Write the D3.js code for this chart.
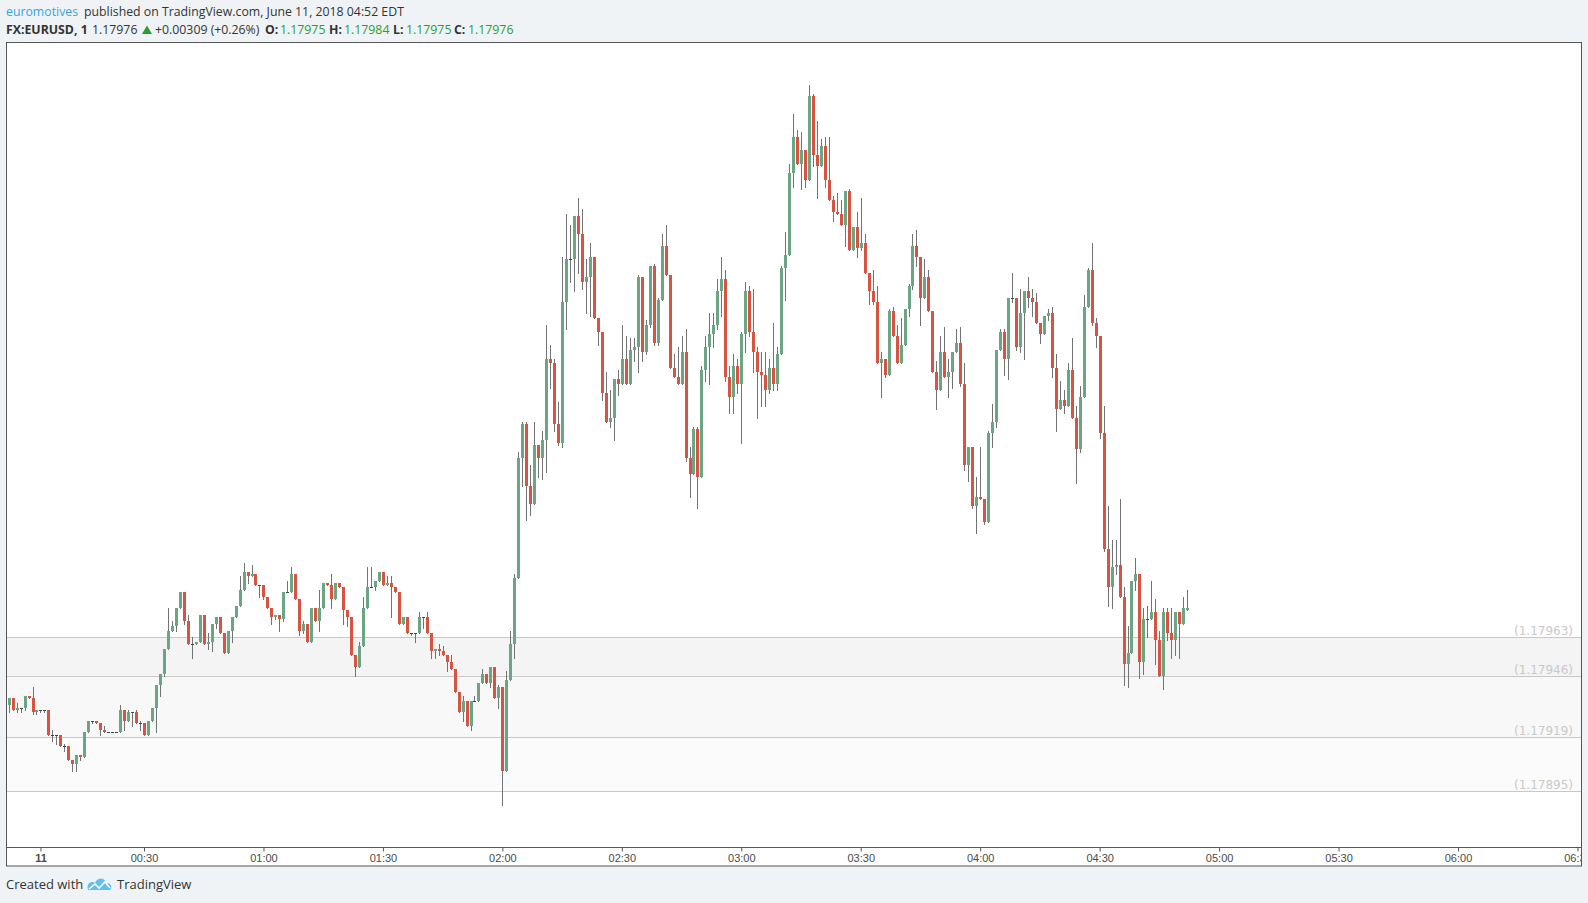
<!DOCTYPE html>
<html lang="en">
<head>
	<meta charset="utf-8">
	<title>FX:EURUSD, 1</title>
	<script src="https://d3js.org/d3.v7.min.js"></script>
	<style>
	body {
		margin: 0;
		background: #eff3f6;
	}
	svg {
		display: block;
	}
	.hdr {
		font-family: "Open Sans", sans-serif;
		font-size: 12.3px;
		fill: #333;
	}
	.axis text {
		font-family: "Liberation Sans", Arial, sans-serif;
		font-size: 11px;
		fill: #4a4a4a;
	}
	.axis line {
		stroke: #555;
	}
	.lvl {
		font-family: "DejaVu Sans", sans-serif;
		font-size: 12px;
		fill: #c9c9c9;
	}
	</style>
</head>
<body>
	<script>
		var w = 1588;
		var h = 903;

		// one bar per minute, first bar is 23:56 of the 10th (minute -4)
		var firstMinute = -4;

		var opens = [
			1.17933,1.17936,1.17931,1.17932,1.17932,1.17937,1.17936,1.17930,1.17931,1.17931,
			1.17931,1.17920,1.17920,1.17920,1.17915,1.17915,1.17909,1.17907,1.17911,1.17910,
			1.17921,1.17926,1.17926,1.17925,1.17922,1.17921,1.17921,1.17921,1.17921,1.17931,
			1.17926,1.17930,1.17930,1.17925,1.17925,1.17920,1.17926,1.17932,1.17942,1.17947,
			1.17958,1.17966,1.17968,1.17976,1.17983,1.17970,1.17960,1.17960,1.17961,1.17973,
			1.17960,1.17961,1.17969,1.17972,1.17965,1.17956,1.17966,1.17972,1.17977,1.17984,
			1.17992,1.17990,1.17991,1.17986,1.17986,1.17981,1.17976,1.17972,1.17973,1.17971,
			1.17983,1.17983,1.17991,1.17980,1.17966,1.17969,1.17961,1.17976,1.17970,1.17976,
			1.17987,1.17986,1.17980,1.17987,1.17985,1.17975,1.17972,1.17955,1.17950,1.17959,
			1.17976,1.17985,1.17985,1.17988,1.17992,1.17986,1.17987,1.17985,1.17983,1.17969,
			1.17972,1.17965,1.17965,1.17965,1.17972,1.17972,1.17965,1.17957,1.17958,1.17957,
			1.17955,1.17952,1.17949,1.17939,1.17930,1.17935,1.17924,1.17935,1.17935,1.17943,
			1.17947,1.17943,1.17950,1.17936,1.17941,1.17904,1.17944,1.17960,1.17989,1.18042,
			1.18057,1.18030,1.18022,1.18048,1.18042,1.18050,1.18086,1.18084,1.18057,1.18049,
			1.18111,1.18130,1.18130,1.18149,1.18141,1.18120,1.18122,1.18131,1.18104,1.18098,
			1.18071,1.18058,1.18060,1.18077,1.18075,1.18086,1.18075,1.18090,1.18091,1.18122,
			1.18089,1.18101,1.18127,1.18093,1.18112,1.18136,1.18123,1.18082,1.18078,1.18075,
			1.18089,1.18042,1.18035,1.18055,1.18034,1.18081,1.18091,1.18097,1.18101,1.18116,
			1.18121,1.18078,1.18069,1.18083,1.18075,1.18097,1.18116,1.18098,1.18089,1.18080,
			1.18079,1.18072,1.18082,1.18075,1.18088,1.18126,1.18132,1.18168,1.18184,1.18172,
			1.18178,1.18165,1.18202,1.18176,1.18171,1.18180,1.18165,1.18156,1.18151,1.18150,
			1.18145,1.18160,1.18134,1.18144,1.18135,1.18137,1.18124,1.18116,1.18111,1.18084,
			1.18086,1.18079,1.18107,1.18096,1.18084,1.18092,1.18108,1.18118,1.18136,1.18131,
			1.18113,1.18122,1.18107,1.18080,1.18072,1.18089,1.18078,1.18080,1.18089,1.18093,
			1.18075,1.18039,1.18047,1.18021,1.18025,1.18024,1.18014,1.18053,1.18058,1.18090,
			1.18098,1.18086,1.18113,1.18113,1.18091,1.18106,1.18116,1.18113,1.18111,1.18102,
			1.18097,1.18105,1.18106,1.18082,1.18064,1.18068,1.18065,1.18081,1.18060,1.18046,
			1.18069,1.18109,1.18125,1.18102,1.18096,1.18053,1.18002,1.17985,1.17994,1.17995,
			1.17981,1.17951,1.17956,1.17988,1.17991,1.17952,1.17971,1.17971,1.17974,1.17962,
			1.17946,1.17974,1.17965,1.17962,1.17974,1.17969,1.17975
		];

		var highs = [
			1.17936,1.17936,1.17934,1.17932,1.17937,1.17937,1.17941,1.17931,1.17931,1.17931,
			1.17931,1.17922,1.17920,1.17920,1.17916,1.17915,1.17909,1.17911,1.17911,1.17921,
			1.17926,1.17926,1.17926,1.17925,1.17924,1.17921,1.17921,1.17921,1.17933,1.17931,
			1.17931,1.17930,1.17931,1.17926,1.17925,1.17926,1.17932,1.17942,1.17947,1.17958,
			1.17976,1.17970,1.17976,1.17983,1.17983,1.17973,1.17963,1.17961,1.17973,1.17973,
			1.17965,1.17969,1.17972,1.17972,1.17965,1.17966,1.17972,1.17977,1.17990,1.17996,
			1.17992,1.17995,1.17991,1.17986,1.17986,1.17981,1.17976,1.17973,1.17973,1.17983,
			1.17988,1.17994,1.17991,1.17980,1.17970,1.17969,1.17976,1.17976,1.17984,1.17987,
			1.17987,1.17991,1.17987,1.17987,1.17985,1.17975,1.17972,1.17955,1.17961,1.17981,
			1.17994,1.17994,1.17988,1.17992,1.17992,1.17990,1.17990,1.17985,1.17983,1.17972,
			1.17972,1.17965,1.17965,1.17974,1.17972,1.17974,1.17965,1.17958,1.17960,1.17959,
			1.17955,1.17955,1.17949,1.17939,1.17937,1.17935,1.17935,1.17937,1.17943,1.17949,
			1.17947,1.17950,1.17950,1.17942,1.17941,1.17948,1.17966,1.17991,1.18045,1.18058,
			1.18058,1.18039,1.18058,1.18048,1.18054,1.18101,1.18092,1.18086,1.18067,1.18131,
			1.18150,1.18145,1.18149,1.18157,1.18152,1.18130,1.18137,1.18131,1.18104,1.18098,
			1.18080,1.18072,1.18077,1.18081,1.18101,1.18096,1.18095,1.18095,1.18123,1.18122,
			1.18103,1.18127,1.18128,1.18113,1.18141,1.18145,1.18123,1.18088,1.18091,1.18096,
			1.18099,1.18047,1.18056,1.18056,1.18083,1.18096,1.18106,1.18106,1.18121,1.18131,
			1.18125,1.18083,1.18088,1.18086,1.18098,1.18120,1.18118,1.18117,1.18091,1.18089,
			1.18089,1.18086,1.18102,1.18091,1.18127,1.18142,1.18172,1.18194,1.18187,1.18186,
			1.18178,1.18207,1.18203,1.18191,1.18183,1.18184,1.18184,1.18158,1.18159,1.18156,
			1.18160,1.18161,1.18144,1.18151,1.18157,1.18141,1.18124,1.18125,1.18118,1.18089,
			1.18086,1.18108,1.18109,1.18101,1.18104,1.18108,1.18119,1.18141,1.18143,1.18131,
			1.18130,1.18125,1.18107,1.18085,1.18096,1.18100,1.18086,1.18089,1.18099,1.18100,
			1.18084,1.18047,1.18047,1.18034,1.18047,1.18024,1.18054,1.18066,1.18090,1.18099,
			1.18099,1.18113,1.18124,1.18113,1.18117,1.18116,1.18122,1.18117,1.18115,1.18102,
			1.18105,1.18108,1.18109,1.18088,1.18076,1.18072,1.18084,1.18095,1.18065,1.18074,
			1.18114,1.18126,1.18137,1.18104,1.18096,1.18065,1.18021,1.18006,1.18006,1.18024,
			1.17985,1.17968,1.17988,1.17998,1.17991,1.17976,1.17977,1.17988,1.17980,1.17966,
			1.17976,1.17976,1.17976,1.17974,1.17974,1.17981,1.17984
		];

		var lows = [
			1.17930,1.17931,1.17930,1.17930,1.17931,1.17936,1.17929,1.17929,1.17930,1.17930,
			1.17920,1.17917,1.17916,1.17915,1.17913,1.17909,1.17904,1.17904,1.17909,1.17910,
			1.17921,1.17925,1.17925,1.17920,1.17921,1.17921,1.17921,1.17921,1.17921,1.17922,
			1.17926,1.17924,1.17925,1.17922,1.17920,1.17920,1.17926,1.17921,1.17937,1.17946,
			1.17958,1.17966,1.17966,1.17976,1.17969,1.17960,1.17954,1.17960,1.17961,1.17960,
			1.17958,1.17957,1.17967,1.17965,1.17956,1.17956,1.17961,1.17972,1.17977,1.17984,
			1.17987,1.17990,1.17986,1.17981,1.17980,1.17976,1.17969,1.17971,1.17966,1.17970,
			1.17983,1.17983,1.17980,1.17964,1.17965,1.17961,1.17961,1.17970,1.17966,1.17976,
			1.17986,1.17976,1.17980,1.17985,1.17969,1.17968,1.17955,1.17946,1.17950,1.17959,
			1.17976,1.17985,1.17984,1.17988,1.17986,1.17986,1.17972,1.17983,1.17969,1.17969,
			1.17965,1.17964,1.17961,1.17965,1.17967,1.17965,1.17954,1.17954,1.17955,1.17955,
			1.17948,1.17949,1.17939,1.17930,1.17926,1.17924,1.17922,1.17935,1.17935,1.17943,
			1.17943,1.17941,1.17936,1.17932,1.17889,1.17904,1.17944,1.17954,1.17989,1.18030,
			1.18015,1.18017,1.18022,1.18034,1.18033,1.18036,1.18073,1.18054,1.18048,1.18047,
			1.18099,1.18120,1.18116,1.18124,1.18117,1.18106,1.18105,1.18104,1.18092,1.18068,
			1.18058,1.18056,1.18050,1.18070,1.18075,1.18075,1.18075,1.18085,1.18080,1.18085,
			1.18088,1.18100,1.18092,1.18092,1.18112,1.18123,1.18082,1.18078,1.18075,1.18075,
			1.18041,1.18025,1.18035,1.18020,1.18034,1.18076,1.18075,1.18091,1.18099,1.18105,
			1.18076,1.18062,1.18062,1.18071,1.18049,1.18089,1.18096,1.18080,1.18060,1.18065,
			1.18065,1.18071,1.18072,1.18072,1.18088,1.18112,1.18132,1.18162,1.18172,1.18161,
			1.18162,1.18165,1.18171,1.18157,1.18171,1.18162,1.18156,1.18147,1.18150,1.18145,
			1.18136,1.18134,1.18134,1.18131,1.18134,1.18124,1.18110,1.18110,1.18084,1.18069,
			1.18078,1.18079,1.18096,1.18084,1.18084,1.18092,1.18105,1.18117,1.18127,1.18101,
			1.18113,1.18107,1.18080,1.18064,1.18072,1.18078,1.18069,1.18073,1.18089,1.18074,
			1.18037,1.18032,1.18020,1.18009,1.18024,1.18013,1.18014,1.18047,1.18056,1.18090,
			1.18079,1.18077,1.18111,1.18090,1.18089,1.18086,1.18109,1.18105,1.18102,1.18093,
			1.18097,1.18103,1.18078,1.18054,1.18064,1.18062,1.18065,1.18060,1.18031,1.18045,
			1.18069,1.18109,1.18101,1.18091,1.18051,1.18001,1.17977,1.17976,1.17991,1.17981,
			1.17942,1.17941,1.17956,1.17984,1.17945,1.17947,1.17963,1.17971,1.17951,1.17946,
			1.17940,1.17962,1.17954,1.17955,1.17954,1.17969,1.17975
		];

		var closes = [
			1.17936,1.17931,1.17932,1.17932,1.17937,1.17936,1.17930,1.17931,1.17931,1.17931,
			1.17920,1.17920,1.17920,1.17915,1.17915,1.17909,1.17907,1.17911,1.17910,1.17921,
			1.17926,1.17926,1.17925,1.17922,1.17921,1.17921,1.17921,1.17921,1.17931,1.17926,
			1.17930,1.17930,1.17925,1.17925,1.17920,1.17926,1.17932,1.17942,1.17947,1.17958,
			1.17966,1.17968,1.17976,1.17983,1.17970,1.17960,1.17960,1.17961,1.17973,1.17960,
			1.17961,1.17969,1.17972,1.17965,1.17956,1.17966,1.17972,1.17977,1.17984,1.17992,
			1.17990,1.17991,1.17986,1.17986,1.17981,1.17976,1.17972,1.17973,1.17971,1.17983,
			1.17983,1.17991,1.17980,1.17966,1.17969,1.17961,1.17976,1.17970,1.17976,1.17987,
			1.17986,1.17980,1.17987,1.17985,1.17975,1.17972,1.17955,1.17950,1.17959,1.17976,
			1.17985,1.17985,1.17988,1.17992,1.17986,1.17987,1.17985,1.17983,1.17969,1.17972,
			1.17965,1.17965,1.17965,1.17972,1.17972,1.17965,1.17957,1.17958,1.17957,1.17955,
			1.17952,1.17949,1.17939,1.17930,1.17935,1.17924,1.17935,1.17935,1.17943,1.17947,
			1.17943,1.17950,1.17936,1.17941,1.17904,1.17944,1.17960,1.17989,1.18042,1.18057,
			1.18030,1.18022,1.18048,1.18042,1.18050,1.18086,1.18084,1.18057,1.18049,1.18111,
			1.18130,1.18130,1.18149,1.18141,1.18120,1.18122,1.18131,1.18104,1.18098,1.18071,
			1.18058,1.18060,1.18077,1.18075,1.18086,1.18075,1.18090,1.18091,1.18122,1.18089,
			1.18101,1.18127,1.18093,1.18112,1.18136,1.18123,1.18082,1.18078,1.18075,1.18089,
			1.18042,1.18035,1.18055,1.18034,1.18081,1.18091,1.18097,1.18101,1.18116,1.18121,
			1.18078,1.18069,1.18083,1.18075,1.18097,1.18116,1.18098,1.18089,1.18080,1.18079,
			1.18072,1.18082,1.18075,1.18088,1.18126,1.18132,1.18168,1.18184,1.18172,1.18178,
			1.18165,1.18202,1.18176,1.18171,1.18180,1.18165,1.18156,1.18151,1.18150,1.18145,
			1.18160,1.18134,1.18144,1.18135,1.18137,1.18124,1.18116,1.18111,1.18084,1.18086,
			1.18079,1.18107,1.18096,1.18084,1.18092,1.18108,1.18118,1.18136,1.18131,1.18113,
			1.18122,1.18107,1.18080,1.18072,1.18089,1.18078,1.18080,1.18089,1.18093,1.18075,
			1.18039,1.18047,1.18021,1.18025,1.18024,1.18014,1.18053,1.18058,1.18090,1.18098,
			1.18086,1.18113,1.18113,1.18091,1.18106,1.18116,1.18113,1.18111,1.18102,1.18097,
			1.18105,1.18106,1.18082,1.18064,1.18068,1.18065,1.18081,1.18060,1.18046,1.18069,
			1.18109,1.18125,1.18102,1.18096,1.18053,1.18002,1.17985,1.17994,1.17995,1.17981,
			1.17951,1.17956,1.17988,1.17991,1.17952,1.17971,1.17971,1.17974,1.17962,1.17946,
			1.17974,1.17965,1.17962,1.17974,1.17969,1.17976,1.17976
		];

		// time axis, in minutes from 00:00
		var tickMinutes = [4, 30, 60, 90, 120, 150, 180, 210, 240, 270, 300, 330, 360, 390];
		var tickLabels = ["11", "00:30", "01:00", "01:30", "02:00", "02:30", "03:00",
			"03:30", "04:00", "04:30", "05:00", "05:30", "06:00", "06:30"];

		// horizontal price levels and the bands between them
		var levels = [1.17963, 1.17946, 1.17919, 1.17895];
		var levelLabels = ["(1.17963)", "(1.17946)", "(1.17919)", "(1.17895)"];
		var bandColors = ["#f4f4f4", "#f8f8f8", "#fbfbfb"];

		// frame of the chart pane
		var paneL = 6.5, paneR = 1581.5, paneT = 42.5, axisY = 847.5, paneB = 866;

		var svg = d3.select("body")
			.append("svg")
			.attr("width", w)
			.attr("height", h);

		svg.append("rect")
			.attr("width", w)
			.attr("height", h)
			.attr("fill", "#eff3f6");

		// header
		var hdr1 = svg.append("text").attr("class", "hdr").attr("y", 16);
		hdr1.append("tspan").attr("x", 6).attr("fill", "#3aa3e0").text("euromotives");
		hdr1.append("tspan").attr("x", 84).text("published on TradingView.com, June 11, 2018 04:52 EDT");

		var green = "#2a9e2a";
		var hdr2 = svg.append("text").attr("class", "hdr").attr("y", 34);
		hdr2.append("tspan").attr("x", 6).attr("font-weight", "bold").text("FX:EURUSD, 1");
		hdr2.append("tspan").attr("x", 92).text("1.17976");
		hdr2.append("tspan").attr("x", 155).text("+0.00309 (+0.26%)");
		hdr2.append("tspan").attr("x", 265).attr("font-weight", "bold").text("O:");
		hdr2.append("tspan").attr("x", 280).attr("fill", green).text("1.17975");
		hdr2.append("tspan").attr("x", 329).attr("font-weight", "bold").text("H:");
		hdr2.append("tspan").attr("x", 344).attr("fill", green).text("1.17984");
		hdr2.append("tspan").attr("x", 393).attr("font-weight", "bold").text("L:");
		hdr2.append("tspan").attr("x", 406).attr("fill", green).text("1.17975");
		hdr2.append("tspan").attr("x", 454).attr("font-weight", "bold").text("C:");
		hdr2.append("tspan").attr("x", 468).attr("fill", green).text("1.17976");

		svg.append("path")
			.attr("d", "M142,34 L152,34 L147,25.5 Z")
			.attr("fill", green);

		// pane background
		svg.append("rect")
			.attr("x", paneL)
			.attr("y", paneT)
			.attr("width", paneR - paneL)
			.attr("height", paneB - paneT)
			.attr("fill", "#fff");

		var defs = svg.append("defs");
		defs.append("clipPath").attr("id", "plotclip")
			.append("rect")
			.attr("x", paneL + 0.5).attr("y", paneT + 0.5)
			.attr("width", paneR - paneL - 1).attr("height", axisY - paneT - 1);
		defs.append("clipPath").attr("id", "axisclip")
			.append("rect")
			.attr("x", paneL + 0.5).attr("y", axisY)
			.attr("width", paneR - paneL - 1).attr("height", paneB - axisY);

		// scales
		var x = d3.scaleLinear()
			.domain([30, 300])
			.range([144, 1219.1]);

		var y = d3.scaleLinear()
			.domain([levels[3], levels[0]])
			.range([791.3, 637.3]);

		var plot = svg.append("g").attr("clip-path", "url(#plotclip)");

		// bands between levels
		plot.selectAll("rect.band")
			.data(bandColors)
			.enter().append("rect")
			.attr("class", "band")
			.attr("x", paneL)
			.attr("width", paneR - paneL)
			.attr("y", function(d, i) { return Math.round(y(levels[i])); })
			.attr("height", function(d, i) { return Math.round(y(levels[i + 1])) - Math.round(y(levels[i])); })
			.attr("fill", function(d) { return d; });

		plot.selectAll("line.level")
			.data(levels)
			.enter().append("line")
			.attr("class", "level")
			.attr("x1", paneL)
			.attr("x2", paneR)
			.attr("y1", function(d) { return Math.round(y(d)) + 0.5; })
			.attr("y2", function(d) { return Math.round(y(d)) + 0.5; })
			.attr("stroke", "#c8c8c8")
			.attr("stroke-width", 1);

		plot.selectAll("text.lvl")
			.data(levels)
			.enter().append("text")
			.attr("class", "lvl")
			.attr("x", 1573)
			.attr("y", function(d) { return Math.round(y(d)) - 2; })
			.attr("text-anchor", "end")
			.text(function(d, i) { return levelLabels[i]; });

		// candles
		var bars = opens.map(function(o, i) {
			return { m: firstMinute + i, o: o, h: highs[i], l: lows[i], c: closes[i] };
		});

		var candle = plot.append("g")
			.attr("shape-rendering", "crispEdges")
			.selectAll("g")
			.data(bars)
			.enter().append("g");

		candle.append("line")
			.attr("x1", function(d) { return Math.round(x(d.m)) + 0.5; })
			.attr("x2", function(d) { return Math.round(x(d.m)) + 0.5; })
			.attr("y1", function(d) { return Math.round(y(d.h)); })
			.attr("y2", function(d) { return Math.round(y(d.l)) + 1; })
			.attr("stroke", "#737375")
			.attr("stroke-width", 1);

		candle.append("rect")
			.attr("x", function(d) { return Math.round(x(d.m)) - 1; })
			.attr("width", 3)
			.attr("y", function(d) { return Math.round(y(Math.max(d.o, d.c))); })
			.attr("height", function(d) {
				return Math.max(1, Math.round(y(Math.min(d.o, d.c))) - Math.round(y(Math.max(d.o, d.c))));
			})
			.attr("fill", function(d) {
				if (d.o === d.c) return "#2b5139";
				return d.c > d.o ? "#6ba583" : "#d75442";
			});

		// time axis (clip on an untransformed parent so the last label is cut at the frame)
		svg.append("line")
			.attr("x1", paneL).attr("x2", paneR)
			.attr("y1", axisY).attr("y2", axisY)
			.attr("stroke", "#555");

		var xAxis = d3.axisBottom(x)
			.tickValues(tickMinutes)
			.tickFormat(function(d, i) { return tickLabels[i]; })
			.tickSize(4)
			.tickPadding(3);

		svg.append("g")
			.attr("clip-path", "url(#axisclip)")
			.append("g")
			.attr("class", "axis")
			.attr("transform", "translate(0," + axisY + ")")
			.call(xAxis)
			.call(function(g) { g.select(".domain").remove(); })
			.selectAll("text")
			.attr("font-weight", function(d, i) { return i === 0 ? "bold" : null; });

		// frame
		svg.append("rect")
			.attr("x", paneL)
			.attr("y", paneT)
			.attr("width", paneR - paneL)
			.attr("height", paneB - paneT)
			.attr("fill", "none")
			.attr("stroke", "#555");

		// footer
		svg.append("text")
			.attr("class", "hdr")
			.attr("x", 6)
			.attr("y", 889)
			.style("font-size", "13px")
			.attr("fill", "#222")
			.text("Created with");

		svg.append("path")
			.attr("d", "M88,890 C86,884 91,880 95,883 C97,877 105,877 106,883 C111,882 113,888 110,890 Z")
			.attr("fill", "#5fc0ee");
		svg.append("path")
			.attr("d", "M89,889 L95,884 L99,888 L105,882 L110,888")
			.attr("fill", "none")
			.attr("stroke", "#fff")
			.attr("stroke-width", 1.6);

		svg.append("text")
			.attr("class", "hdr")
			.attr("x", 117)
			.attr("y", 889)
			.style("font-size", "13px")
			.attr("fill", "#3aa3e0")
			.text("TradingView");

	</script>
</body>
</html>
